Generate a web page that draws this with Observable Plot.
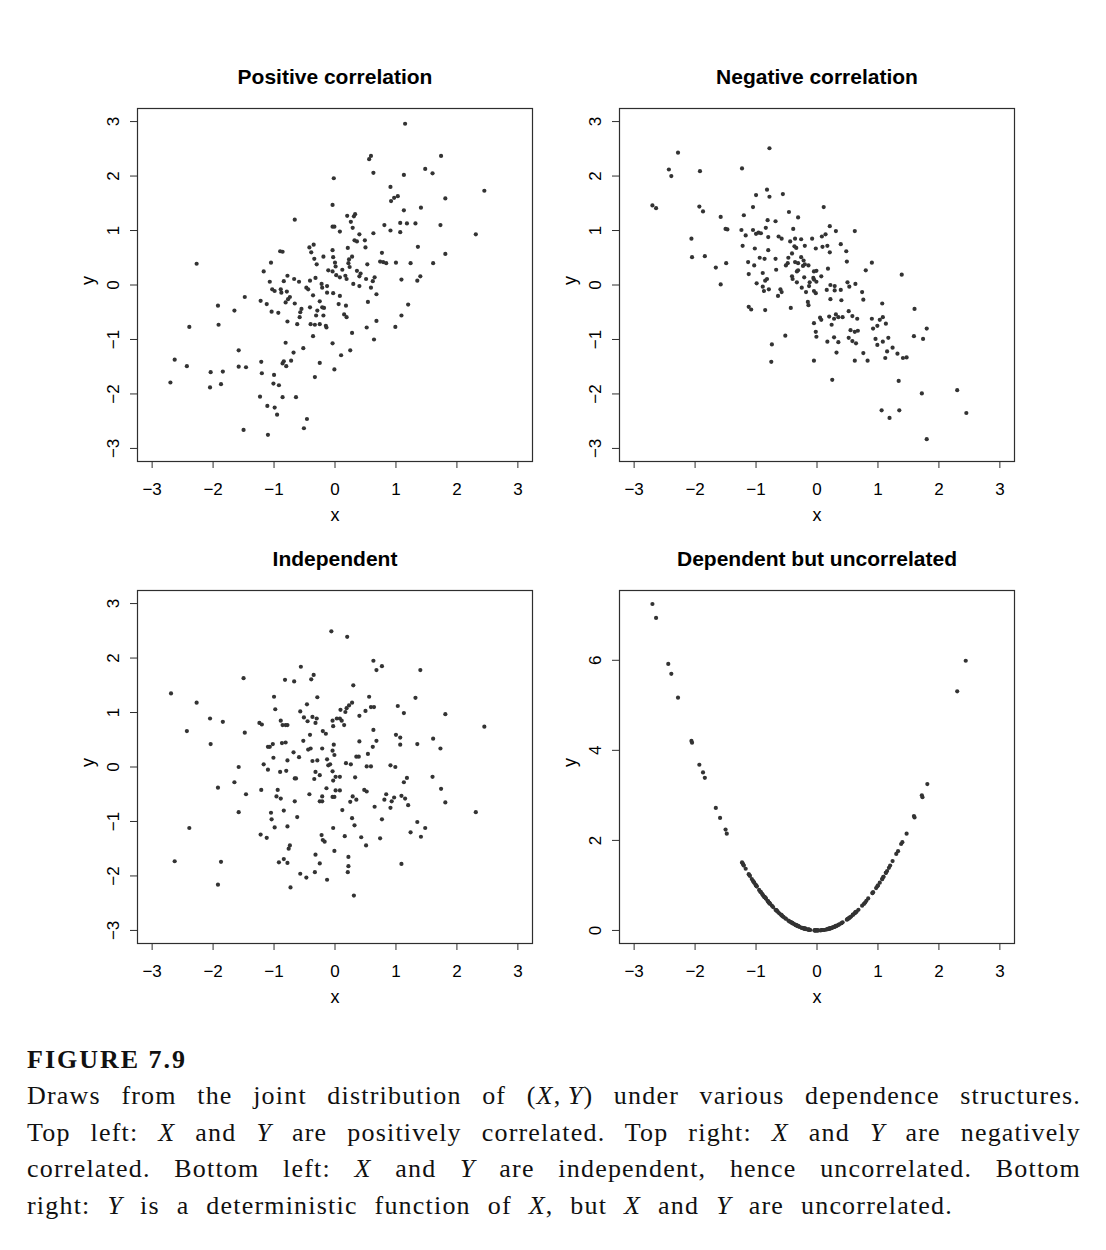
<!DOCTYPE html>
<html><head><meta charset="utf-8">
<script src="https://cdn.jsdelivr.net/npm/d3@7"></script>
<script src="https://cdn.jsdelivr.net/npm/@observablehq/plot@0.6"></script>
<style>
body{margin:0;background:#fff;}
#wrap{position:relative;width:1106px;height:1250px;overflow:hidden;}
.panel{position:absolute;}
.cap{position:absolute;left:27px;font-family:"Liberation Serif","Times New Roman",serif;color:#111;}
.j{text-align:justify;text-align-last:justify;letter-spacing:1.2px;}
</style></head><body><div id="wrap"></div>
<script>
const xTicks = [-3, -2, -1, 0, 1, 2, 3];
const yTicks = [-3, -2, -1, 0, 1, 2, 3];
const depYTicks = [0, 2, 4, 6];
const titles = ["Positive correlation", "Negative correlation", "Independent", "Dependent but uncorrelated"];

const positivePts = [
[-0.66,1.20],[-2.27,0.39],[-0.90,0.62],[-0.86,0.61],[-0.42,0.69],[-0.35,0.74],[-0.39,0.60],[-0.19,0.52],[-0.34,0.48],[-0.30,0.38],
[-1.05,0.41],[-1.17,0.25],[-0.11,0.27],[-0.78,0.17],[-0.67,0.11],[-0.59,0.06],[-0.84,0.07],[-1.07,0.06],[-0.41,0.08],[-0.32,0.13],
[-0.47,-0.05],[-0.44,-0.08],[-0.22,0.02],[-0.21,-0.05],[-0.13,-0.02],[-0.13,-0.14],[-1.03,-0.08],[-0.99,-0.11],[-0.89,-0.08],[-0.88,-0.14],
[-0.79,-0.12],[-0.74,-0.22],[-0.77,-0.26],[-0.81,-0.32],[-0.36,-0.19],[-0.25,-0.30],[-1.48,-0.22],[-1.22,-0.29],[-1.12,-0.35],[-0.66,-0.34],
[-0.41,-0.41],[-0.29,-0.47],[-0.21,-0.41],[-0.18,-0.42],[-0.55,-0.44],[-0.57,-0.50],[-0.58,-0.59],[-1.04,-0.49],[-0.93,-0.51],[-0.31,-0.56],
[-0.19,-0.56],[-1.92,-0.38],[-1.65,-0.47],[-1.91,-0.73],[-2.39,-0.77],[-0.78,-0.67],[-0.62,-0.72],[-0.40,-0.72],[-0.33,-0.73],[-0.25,-0.72],
[-0.15,-0.75],[-0.14,-0.78],[-0.36,-0.94],[-0.81,-1.06],[-0.52,-1.16],[-0.68,-1.24],[-1.58,-1.20],[-2.63,-1.37],[-2.43,-1.49],[-1.58,-1.50],
[-1.46,-1.51],[-2.04,-1.60],[-1.84,-1.59],[-0.72,-1.39],[-0.84,-1.40],[-0.86,-1.44],[-0.80,-1.49],[-0.25,-1.43],[-1.21,-1.41],[-1.20,-1.62],
[-1.00,-1.65],[-0.33,-1.69],[-2.70,-1.79],[-2.05,-1.88],[-1.87,-1.82],[-1.01,-1.81],[-0.92,-1.84],[-1.23,-2.05],[-0.86,-2.06],[-0.64,-2.06],
[-1.11,-2.22],[-0.99,-2.25],[-0.95,-2.38],[-0.46,-2.46],[-0.51,-2.63],[-1.50,-2.66],[-1.10,-2.75],
[1.15,2.96],[0.56,2.31],[0.59,2.37],[1.74,2.37],[0.63,2.06],[1.48,2.13],[1.60,2.05],[1.13,2.02],[-0.02,1.96],[0.91,1.80],
[2.45,1.73],[0.92,1.54],[0.97,1.60],[1.03,1.63],[1.81,1.59],[-0.04,1.47],[1.41,1.42],[1.13,1.37],[0.20,1.27],[0.31,1.26],
[0.33,1.30],[0.26,1.16],[0.29,1.05],[-0.04,1.07],[-0.01,1.07],[0.08,0.98],[0.63,0.95],[0.81,1.10],[0.91,1.00],[1.07,1.14],
[1.18,1.13],[1.32,1.13],[1.07,0.97],[1.73,1.10],[0.40,0.93],[2.31,0.93],[0.32,0.82],[0.36,0.80],[0.49,0.82],[0.50,0.69],
[0.21,0.68],[1.36,0.70],[0.77,0.59],[1.81,0.57],[-0.04,0.64],[-0.03,0.51],[0.28,0.52],[0.23,0.47],[0.00,0.41],[0.01,0.34],
[0.22,0.40],[0.24,0.33],[0.74,0.43],[0.79,0.42],[0.84,0.40],[1.00,0.41],[1.24,0.40],[1.61,0.40],[0.53,0.38],[0.12,0.28],
[-0.04,0.25],[0.02,0.18],[0.08,0.14],[0.17,0.17],[0.19,0.11],[0.36,0.26],[0.42,0.21],[0.40,0.16],[0.51,0.11],[0.65,0.14],
[0.62,0.07],[1.09,0.10],[1.40,0.16],[1.35,0.08],[0.30,0.02],[0.40,-0.02],[0.59,-0.05],[0.68,-0.17],[-0.03,-0.15],[0.08,-0.20],
[0.06,-0.35],[0.18,-0.38],[0.54,-0.31],[1.20,-0.36],[0.15,-0.54],[0.19,-0.59],[1.09,-0.56],[0.68,-0.66],[0.52,-0.78],[0.99,-0.77],
[0.28,-0.88],[0.64,-1.00],[-0.04,-1.07],[0.25,-1.20],[0.10,-1.29],[-0.01,-1.55]
];

const negativePts = [
[-0.78,2.51],[-2.28,2.43],[-2.43,2.12],[-2.39,2.00],[-1.92,2.09],[-1.23,2.14],[-2.70,1.46],[-2.64,1.41],[-1.93,1.44],[-1.87,1.35],
[-0.82,1.75],[-1.00,1.65],[-0.78,1.62],[-0.56,1.67],[-1.05,1.43],[-1.58,1.25],[-1.20,1.28],[-0.81,1.19],[-0.68,1.17],[-0.46,1.34],
[-0.31,1.24],[-1.50,1.03],[-1.47,1.02],[-1.24,1.01],[-1.17,0.91],[-1.05,1.01],[-1.00,0.94],[-0.96,0.96],[-0.92,0.95],[-0.84,1.05],
[-0.80,0.88],[-0.63,0.89],[-0.58,0.85],[-0.39,1.03],[-0.36,0.85],[-0.26,0.84],[-0.08,0.85],[-0.44,0.80],[-0.37,0.71],[-0.34,0.68],
[-0.20,0.72],[-2.06,0.85],[-1.22,0.72],[-1.02,0.67],[-0.80,0.64],[-2.05,0.51],[-1.84,0.53],[-1.66,0.32],[-1.49,0.40],[-1.13,0.42],
[-1.03,0.36],[-0.94,0.50],[-0.86,0.48],[-0.68,0.48],[-0.67,0.28],[-0.47,0.50],[-0.41,0.58],[-0.51,0.36],[-0.48,0.40],[-0.36,0.42],
[-0.31,0.40],[-0.26,0.51],[-0.22,0.45],[-0.23,0.35],[-0.20,0.38],[-0.14,0.36],[-1.12,0.20],[-0.89,0.22],[-0.99,0.03],[-0.85,0.08],
[-0.82,0.11],[-0.89,-0.03],[-0.87,-0.11],[-0.79,-0.08],[-0.60,-0.08],[-0.58,-0.13],[-0.64,-0.20],[-0.41,0.16],[-0.40,0.11],[-0.33,0.25],
[-0.31,0.27],[-0.21,0.14],[-0.33,0.05],[-0.25,-0.05],[-0.18,-0.13],[-0.13,-0.02],[-0.12,0.05],[-1.58,0.01],[-1.12,-0.40],[-1.08,-0.45],
[-0.85,-0.46],[-0.43,-0.42],[-0.15,-0.31],[-0.14,-0.37],[-0.52,-0.93],[-0.74,-1.09],[-0.75,-1.41],
[0.11,1.43],[0.21,1.08],[0.14,0.93],[0.08,0.89],[0.31,0.99],[0.62,0.99],[-0.02,0.67],[0.09,0.70],[0.17,0.72],[0.21,0.60],
[0.39,0.75],[0.48,0.62],[0.49,0.43],[0.90,0.41],[0.80,0.27],[1.39,0.19],[0.18,0.30],[-0.05,0.25],[-0.01,0.26],[0.07,0.16],
[-0.06,0.13],[-0.05,0.10],[-0.01,0.06],[-0.05,-0.11],[-0.02,-0.15],[0.16,-0.09],[0.22,0.00],[0.29,-0.02],[0.29,-0.10],[0.39,-0.09],
[0.22,-0.26],[0.40,-0.28],[0.50,0.05],[0.53,-0.03],[0.63,0.02],[0.74,-0.13],[0.76,-0.27],[1.07,-0.34],[1.60,-0.44],[-0.05,-0.70],
[0.05,-0.60],[0.07,-0.64],[0.20,-0.58],[0.24,-0.73],[0.28,-0.62],[0.31,-0.54],[0.35,-0.59],[0.42,-0.59],[0.52,-0.48],[0.58,-0.57],
[0.66,-0.62],[0.90,-0.62],[1.03,-0.64],[1.08,-0.59],[1.13,-0.71],[0.92,-0.80],[0.99,-0.75],[0.55,-0.83],[0.62,-0.86],[0.67,-0.84],
[-0.02,-0.86],[-0.01,-0.95],[0.28,-0.96],[0.17,-1.04],[0.35,-1.05],[0.52,-0.97],[0.58,-1.03],[0.64,-1.07],[0.96,-0.99],[0.99,-1.10],
[1.08,-1.04],[1.17,-0.97],[1.15,-1.22],[1.24,-1.15],[1.32,-1.26],[1.12,-1.34],[1.41,-1.34],[1.47,-1.33],[1.59,-0.94],[1.74,-0.99],
[1.80,-0.80],[0.32,-1.24],[0.76,-1.25],[0.83,-1.39],[0.62,-1.39],[-0.05,-1.39],[0.25,-1.74],[1.34,-1.76],[1.72,-1.99],[2.30,-1.93],
[1.06,-2.30],[1.19,-2.44],[1.35,-2.30],[2.45,-2.35],[1.80,-2.83]
];

const independentPts = [
[-0.06,2.49],[-0.56,1.84],[-1.50,1.63],[-0.82,1.60],[-0.67,1.57],[-0.39,1.61],[-0.35,1.69],[-2.69,1.35],[-2.27,1.18],[-1.00,1.29],
[-0.98,1.06],[-0.29,1.28],[-0.46,1.15],[-0.57,1.02],[-0.51,0.91],[-0.45,0.84],[-0.37,0.92],[-0.30,0.89],[-0.32,0.81],[-2.05,0.89],
[-1.84,0.83],[-2.43,0.66],[-2.04,0.42],[-1.48,0.63],[-1.24,0.81],[-1.20,0.78],[-0.89,0.85],[-0.86,0.77],[-0.81,0.77],[-0.78,0.77],
[-0.20,0.66],[-0.15,0.61],[-0.41,0.59],[-0.52,0.48],[-1.10,0.37],[-1.07,0.37],[-1.02,0.42],[-0.87,0.44],[-0.81,0.45],[-0.68,0.27],
[-0.59,0.18],[-1.01,0.17],[-1.17,0.05],[-1.10,-0.05],[-0.90,-0.09],[-0.80,-0.07],[-0.78,0.12],[-0.66,-0.21],[-0.64,-0.21],[-1.58,0.00],
[-1.65,-0.28],[-1.92,-0.38],[-1.46,-0.50],[-1.21,-0.42],[-0.94,-0.42],[-0.96,-0.54],[-0.89,-0.58],[-0.66,-0.63],[-0.44,0.32],[-0.40,0.34],
[-0.21,0.34],[-0.37,0.11],[-0.29,0.12],[-0.13,0.14],[-0.11,0.03],[-0.08,0.05],[-0.32,-0.09],[-0.25,-0.15],[-0.34,-0.22],[-0.14,-0.39],
[-0.21,-0.54],[-0.25,-0.63],[-0.21,-0.63],[-0.42,-0.50],[-1.58,-0.83],[-1.05,-0.84],[-1.04,-0.96],[-0.84,-0.80],[-0.62,-0.92],[-0.99,-1.11],
[-0.78,-1.09],[-2.39,-1.12],[-1.22,-1.24],[-1.12,-1.30],[-0.22,-1.25],[-0.20,-1.34],[-0.17,-1.37],[-0.74,-1.44],[-0.76,-1.50],[-0.32,-1.61],
[-0.25,-1.77],[-0.92,-1.75],[-0.84,-1.69],[-0.78,-1.76],[-2.63,-1.73],[-1.87,-1.74],[-1.92,-2.16],[-0.57,-1.96],[-0.47,-2.03],[-0.33,-1.93],
[-0.13,-2.07],[-0.73,-2.21],
[0.20,2.39],[0.63,1.95],[0.68,1.78],[0.77,1.85],[1.40,1.78],[0.30,1.50],[0.56,1.29],[1.32,1.27],[0.28,1.18],[0.23,1.13],
[0.19,1.08],[0.17,1.01],[0.09,1.05],[0.50,1.03],[0.59,1.10],[0.64,1.10],[1.03,1.12],[1.13,0.99],[1.81,0.97],[0.40,0.94],
[-0.04,0.85],[-0.03,0.75],[0.03,0.89],[0.08,0.89],[0.11,0.85],[0.15,0.77],[2.45,0.74],[0.63,0.68],[1.00,0.59],[1.07,0.54],
[1.07,0.41],[1.35,0.42],[1.61,0.52],[1.73,0.34],[-0.02,0.41],[-0.04,0.30],[-0.01,0.22],[0.40,0.47],[0.68,0.48],[0.35,0.19],
[0.39,0.19],[0.54,0.24],[0.62,0.37],[0.18,0.07],[0.26,0.05],[0.52,0.01],[0.59,0.01],[0.91,0.03],[0.99,0.00],[-0.04,-0.08],
[-0.03,-0.25],[0.01,-0.18],[0.08,-0.18],[0.33,-0.19],[1.60,-0.18],[1.13,-0.28],[1.18,-0.20],[1.74,-0.40],[0.01,-0.43],[0.08,-0.43],
[0.48,-0.42],[0.52,-0.45],[-0.04,-0.55],[-0.01,-0.55],[0.29,-0.54],[0.35,-0.60],[0.25,-0.64],[0.84,-0.50],[0.81,-0.60],[0.91,-0.75],
[0.93,-0.63],[0.97,-0.56],[1.09,-0.53],[1.15,-0.58],[1.20,-0.70],[0.65,-0.73],[1.81,-0.65],[0.12,-0.79],[0.28,-0.94],[0.32,-1.07],
[0.77,-0.96],[-0.03,-1.12],[0.16,-1.27],[0.43,-1.29],[0.51,-1.44],[0.74,-1.31],[1.24,-1.20],[1.35,-1.01],[1.48,-1.12],[1.41,-1.28],
[2.31,-0.83],[-0.01,-1.54],[0.22,-1.65],[0.22,-1.82],[0.21,-1.93],[1.09,-1.78],[0.31,-2.36]
];

const dependentPts = [
[-0.66,0.44],[-0.90,0.81],[-0.86,0.74],[-0.42,0.18],[-0.35,0.12],[-0.39,0.15],[-0.19,0.04],[-0.34,0.12],[-0.30,0.09],[-1.05,1.10],
[-1.17,1.37],[-0.11,0.01],[-0.78,0.61],[-0.67,0.45],[-0.59,0.35],[-0.84,0.71],[-1.07,1.14],[-0.41,0.17],[-0.32,0.10],[-0.47,0.22],
[-0.44,0.19],[-0.22,0.05],[-0.21,0.04],[-0.13,0.02],[-0.13,0.02],[-1.03,1.06],[-0.99,0.98],[-0.89,0.79],[-0.88,0.77],[-0.79,0.62],
[-0.74,0.55],[-0.77,0.59],[-0.81,0.66],[-0.36,0.13],[-0.25,0.06],[-1.22,1.49],[-1.12,1.25],[-0.66,0.44],[-0.41,0.17],[-0.29,0.08],
[-0.21,0.04],[-0.18,0.03],[-0.55,0.30],[-0.57,0.32],[-0.58,0.34],[-1.04,1.08],[-0.93,0.86],[-0.31,0.10],[-0.19,0.04],[-0.78,0.61],
[-0.62,0.38],[-0.40,0.16],[-0.33,0.11],[-0.25,0.06],[-0.15,0.02],[-0.14,0.02],[-0.36,0.13],[-0.81,0.66],[-0.52,0.27],[-0.68,0.46],
[-0.72,0.52],[-0.84,0.71],[-0.86,0.74],[-0.80,0.64],[-0.25,0.06],[-1.21,1.46],[-1.20,1.44],[-1.00,1.00],[-0.33,0.11],[-1.01,1.02],
[-0.92,0.85],[-1.23,1.51],[-0.86,0.74],[-0.64,0.41],[-1.11,1.23],[-0.99,0.98],[-0.95,0.90],[-0.46,0.21],[-0.51,0.26],[-1.10,1.21],
[1.15,1.32],[0.56,0.31],[0.59,0.35],[0.63,0.40],[1.13,1.28],[-0.02,0.00],[0.91,0.83],[0.92,0.85],[0.97,0.94],[1.03,1.06],
[-0.04,0.00],[1.13,1.28],[0.20,0.04],[0.31,0.10],[0.33,0.11],[0.26,0.07],[0.29,0.08],[-0.04,0.00],[-0.01,0.00],[0.08,0.01],
[0.63,0.40],[0.81,0.66],[0.91,0.83],[1.07,1.14],[1.18,1.39],[1.07,1.14],[0.40,0.16],[0.32,0.10],[0.36,0.13],[0.49,0.24],
[0.50,0.25],[0.21,0.04],[0.77,0.59],[-0.03,0.00],[0.28,0.08],[0.23,0.05],[0.00,0.00],[0.01,0.00],[0.22,0.05],[0.24,0.06],
[0.74,0.55],[0.79,0.62],[0.84,0.71],[1.00,1.00],[1.24,1.54],[0.53,0.28],[0.12,0.01],[0.02,0.00],[0.08,0.01],[0.17,0.03],
[0.19,0.04],[0.36,0.13],[0.42,0.18],[0.40,0.16],[0.51,0.26],[0.65,0.42],[0.62,0.38],[1.09,1.19],[0.30,0.09],[0.59,0.35],
[0.68,0.46],[0.06,0.00],[0.18,0.03],[0.54,0.29],[1.20,1.44],[0.15,0.02],[1.09,1.19],[0.52,0.27],[0.99,0.98],[0.64,0.41],
[0.25,0.06],[0.10,0.01],
[-2.70,7.25],[-2.64,6.94],[-2.44,5.92],[-2.39,5.70],[-2.28,5.17],[-2.06,4.21],[-2.05,4.17],[-1.93,3.68],[-1.87,3.51],[-1.84,3.39],
[-1.66,2.72],[-1.59,2.50],[-1.50,2.24],[-1.48,2.15],[1.30,1.70],[1.33,1.76],[1.38,1.92],[1.40,1.96],[1.47,2.15],[1.59,2.54],
[1.60,2.51],[1.72,3.00],[1.73,2.96],[1.81,3.25],[2.30,5.31],[2.44,5.99]
];

const FONT = '"Liberation Sans", Arial, Helvetica, sans-serif';
const INK = "#2e2e2e";
const fmt = d => String(d).replace("-", "\u2212");

function panel({title, data, yDomain, yT, left, top, width, height, ml, mr, mt, mb}) {
  const svg = Plot.plot({
    width, height,
    marginLeft: ml, marginRight: mr, marginTop: mt, marginBottom: mb,
    style: {fontFamily: FONT, fontSize: "17px", color: "#000", background: "transparent", overflow: "visible"},
    x: {domain: [-3.24, 3.24]},
    y: {domain: yDomain},
    marks: [
      Plot.frame({stroke: INK, strokeWidth: 1.2}),
      Plot.axisX({ticks: xTicks, tickSize: 7, tickPadding: 14, tickFormat: fmt, label: null, fontSize: 17, stroke: INK}),
      Plot.axisY({ticks: yT, tickSize: 7, tickFormat: () => "", label: null, stroke: INK}),
      Plot.text(yT, {y: d => d, frameAnchor: "left", dx: -24, rotate: -90, text: fmt, textAnchor: "middle", lineAnchor: "middle", fontSize: 17}),
      Plot.text(["x"], {frameAnchor: "bottom", dy: 54, lineAnchor: "middle", fontSize: 18}),
      Plot.text(["y"], {frameAnchor: "left", dx: -49, rotate: -90, lineAnchor: "middle", fontSize: 18}),
      Plot.text([title], {frameAnchor: "top", dy: -31, lineAnchor: "middle", fontWeight: "bold", fontSize: 21}),
      Plot.dot(data, {x: d => d[0], y: d => d[1], r: 2.1, fill: "#333"})
    ]
  });
  svg.classList.add("panel");
  svg.style.left = left + "px";
  svg.style.top = top + "px";
  document.getElementById("wrap").appendChild(svg);
}

const L = {left: 0, width: 560, ml: 137, mr: 28};
const R = {left: 560, width: 546, ml: 59, mr: 92};
const T = {top: 40, height: 490, mt: 68, mb: 69};
const B = {top: 530, height: 490, mt: 60, mb: 77};

panel({title: titles[0], data: positivePts, yDomain: [-3.24, 3.24], yT: yTicks, ...L, ...T});
panel({title: titles[1], data: negativePts, yDomain: [-3.24, 3.24], yT: yTicks, ...R, ...T});
panel({title: titles[2], data: independentPts, yDomain: [-3.24, 3.24], yT: yTicks, ...L, ...B});
panel({title: titles[3], data: dependentPts, yDomain: [-0.29, 7.55], yT: depYTicks, ...R, ...B});

const cap = document.createElement("div");
cap.innerHTML = `
<div class="cap" style="top:1042px;font-weight:bold;font-size:26px;letter-spacing:2px;line-height:36px">FIGURE 7.9</div>
<div class="cap" style="top:1078px;font-size:26px;line-height:36.5px">
<div class="j" style="width:1054px">Draws from the joint distribution of (<i>X</i>,&thinsp;<i>Y</i>) under various dependence structures.</div>
<div class="j" style="width:1054px">Top left: <i>X</i> and <i>Y</i> are positively correlated. Top right: <i>X</i> and <i>Y</i> are negatively</div>
<div class="j" style="width:1054px">correlated. Bottom left: <i>X</i> and <i>Y</i> are independent, hence uncorrelated. Bottom</div>
<div class="j" style="width:926px">right: <i>Y</i> is a deterministic function of <i>X</i>, but <i>X</i> and <i>Y</i> are uncorrelated.</div>
</div>`;
document.getElementById("wrap").appendChild(cap);
</script>
</body></html>
